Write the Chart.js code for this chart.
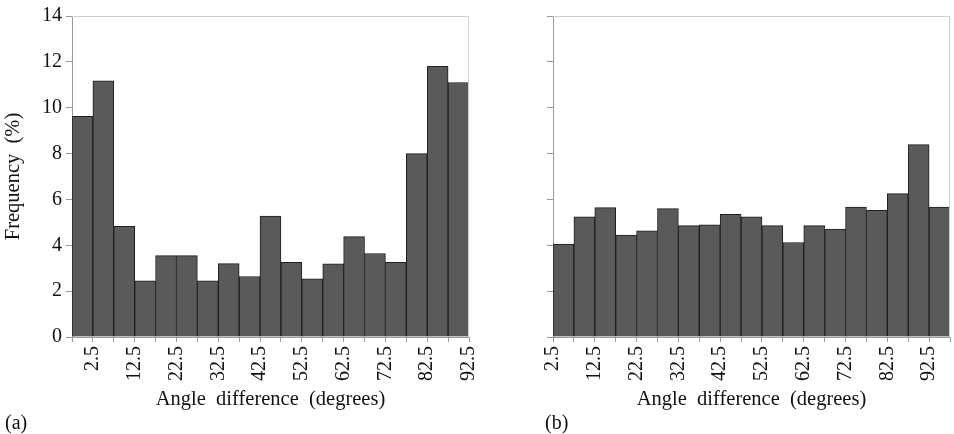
<!DOCTYPE html>
<html>
<head>
<meta charset="utf-8">
<script src="https://cdn.jsdelivr.net/npm/chart.js@4.4.1/dist/chart.umd.min.js"></script>
<style>
  html, body { margin: 0; padding: 0; background: #fff; }
  body { width: 954px; height: 434px; position: relative; overflow: hidden; font-family: "Liberation Serif", serif; }
  .wrap { position: absolute; top: 0; height: 434px; width: 477px; }
  .panel-label { position: absolute; font-size: 20px; color: #111; font-family: "Liberation Serif", serif; line-height: 20px; }
</style>
</head>
<body>
<div class="wrap" style="left:0"><canvas id="ca" width="477" height="434"></canvas></div>
<div class="wrap" style="left:477px"><canvas id="cb" width="477" height="434"></canvas></div>
<div class="panel-label" style="left:5px; top:412px;">(a)</div>
<div class="panel-label" style="left:545px; top:412px;">(b)</div>
<script>
// Bin centres (degrees) of the histogram bars
const binCentres = [2.5, 7.5, 12.5, 17.5, 22.5, 27.5, 32.5, 37.5, 42.5, 47.5, 52.5, 57.5, 62.5, 67.5, 72.5, 77.5, 82.5, 87.5, 92.5];
// Panel (a) frequencies (%)
const freqA = [9.62, 11.17, 4.83, 2.45, 3.55, 3.55, 2.45, 3.2, 2.64, 5.27, 3.26, 2.54, 3.19, 4.38, 3.64, 3.26, 8.0, 11.8, 11.1];
// Panel (b) frequencies (%)
const freqB = [4.05, 5.24, 5.64, 4.44, 4.63, 5.6, 4.86, 4.89, 5.35, 5.24, 4.86, 4.12, 4.86, 4.71, 5.67, 5.53, 6.25, 8.39, 5.67];
// X tick labels
const xTickLabels = ['2.5', '12.5', '22.5', '32.5', '42.5', '52.5', '62.5', '72.5', '82.5', '92.5'];
// Y ticks
const yMin = 0, yMax = 14, yStep = 2;

const FONT = "'Liberation Serif', 'Times New Roman', serif";
const AXIS = '#9a9a9a';
const FRAME = '#cfcfcf';

const framePlugin = {
  id: 'frame',
  afterDatasetsDraw(chart) {
    const a = chart.chartArea, ctx = chart.ctx;
    ctx.save();
    ctx.strokeStyle = FRAME;
    ctx.lineWidth = 1;
    ctx.beginPath();
    ctx.moveTo(a.left, a.top + 0.5);
    ctx.lineTo(a.right - 0.5, a.top + 0.5);
    ctx.lineTo(a.right - 0.5, a.bottom);
    ctx.stroke();
    ctx.restore();
  }
};

function makeChart(id, values, opts) {
  const n = values.length;
  const edges = [];
  for (let k = 0; k <= n; k++) edges.push(k - 0.5);
  return new Chart(document.getElementById(id), {
    type: 'bar',
    data: {
      datasets: [{
        data: values.map((v, i) => ({ x: i, y: v })),
        backgroundColor: '#5a5a5a',
        borderColor: '#1e1e1e',
        borderWidth: 1,
        barPercentage: 1.0,
        categoryPercentage: 1.0
      }]
    },
    options: {
      responsive: false,
      animation: false,
      events: [],
      layout: { padding: { top: 15, right: opts.rightPad, bottom: 0, left: 0 } },
      plugins: { legend: { display: false }, tooltip: { enabled: false } },
      scales: {
        x: {
          type: 'linear',
          min: -0.5,
          max: n - 0.5,
          offset: false,
          afterBuildTicks: (scale) => { scale.ticks = edges.map(v => ({ value: v })); },
          afterFit: (scale) => { scale.height = 97; scale.paddingLeft = 0; scale.paddingRight = 0; },
          grid: { display: true, drawOnChartArea: false, offset: false, tickLength: 5, color: AXIS },
          border: { display: true, color: AXIS },
          ticks: {
            autoSkip: false,
            minRotation: 90,
            maxRotation: 90,
            padding: 4,
            color: '#111',
            font: { family: FONT, size: 20 },
            callback: (value, index) => {
              if (opts.labelParity === 1) return index % 2 === 1 ? xTickLabels[(index - 1) / 2] : '';
              return index % 2 === 0 ? xTickLabels[index / 2] : '';
            }
          },
          title: {
            display: true,
            text: 'Angle  difference  (degrees)',
            color: '#111',
            font: { family: FONT, size: 20.5 },
            padding: { top: 4, bottom: 22 }
          }
        },
        y: {
          min: yMin,
          max: yMax,
          afterFit: (scale) => { scale.width = opts.yWidth; },
          grid: { display: true, drawOnChartArea: false, tickLength: 6, color: AXIS },
          border: { display: true, color: AXIS },
          ticks: {
            stepSize: yStep,
            padding: 4,
            color: '#111',
            font: { family: FONT, size: 20 },
            callback: (v) => opts.showY ? String(v) : ''
          },
          title: {
            display: opts.showY,
            text: 'Frequency  (%)',
            color: '#111',
            font: { family: FONT, size: 20.5 },
            padding: { top: 1, bottom: 0 }
          }
        }
      }
    },
    plugins: [framePlugin]
  });
}

makeChart('ca', freqA, { yWidth: 72, rightPad: 8, labelParity: 1, showY: true });
makeChart('cb', freqB, { yWidth: 76, rightPad: 4, labelParity: 0, showY: false });
</script>
</body>
</html>
